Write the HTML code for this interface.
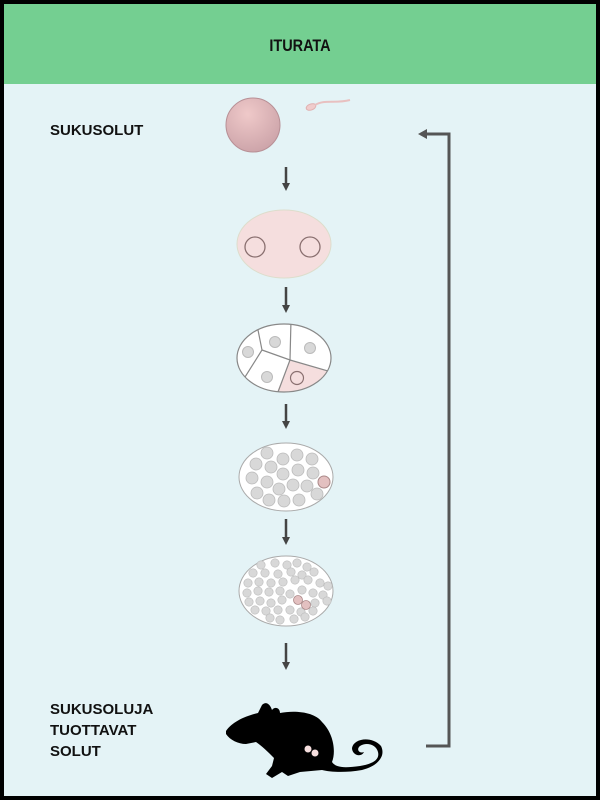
<!DOCTYPE html>
<html><head><meta charset="utf-8"><style>
html,body{margin:0;padding:0;}
body{width:600px;height:800px;overflow:hidden;font-family:"Liberation Sans",Arial,sans-serif;}
</style></head><body>
<svg width="600" height="800" viewBox="0 0 600 800" xmlns="http://www.w3.org/2000/svg">
<defs>
<radialGradient id="egg" cx="0.4" cy="0.3" r="0.8">
<stop offset="0" stop-color="#efc9c9"/><stop offset="1" stop-color="#c9a0a6"/>
</radialGradient>
<marker id="ah" markerWidth="8" markerHeight="8" refX="4" refY="4" orient="auto" markerUnits="userSpaceOnUse">
<path d="M0,0 L8,4 L0,8 z" fill="#444"/></marker>
<clipPath id="c4"><ellipse cx="284" cy="358" rx="47" ry="34"/></clipPath>
</defs>
<rect x="0" y="0" width="600" height="800" fill="#000"/>
<rect x="4" y="4" width="592" height="792" fill="#e4f3f6"/>
<rect x="4" y="4" width="592" height="80" fill="#74cf91"/>
<text x="300" y="51" text-anchor="middle" font-size="17" font-weight="bold" fill="#111" transform="translate(300 0) scale(0.85 1) translate(-300 0)">ITURATA</text>
<g font-size="15" font-weight="bold" fill="#111">
<text x="50" y="135">SUKUSOLUT</text>
<text x="50" y="714">SUKUSOLUJA</text>
<text x="50" y="735">TUOTTAVAT</text>
<text x="50" y="756">SOLUT</text>
</g>
<circle cx="253" cy="125" r="27" fill="url(#egg)" stroke="#b89096" stroke-width="1"/>
<ellipse cx="311" cy="107" rx="5" ry="3" fill="#f0cccc" stroke="#e0b0b0" transform="rotate(-20 311 107)"/>
<path d="M315,105 C325,99 335,104 350,100" stroke="#e8c0c0" stroke-width="2" fill="none"/>
<g stroke="#444" stroke-width="2.5">
<line x1="286" y1="167" x2="286" y2="187" marker-end="url(#ah)"/>
<line x1="286" y1="287" x2="286" y2="309" marker-end="url(#ah)"/>
<line x1="286" y1="404" x2="286" y2="425" marker-end="url(#ah)"/>
<line x1="286" y1="519" x2="286" y2="541" marker-end="url(#ah)"/>
<line x1="286" y1="643" x2="286" y2="666" marker-end="url(#ah)"/>
</g>
<ellipse cx="284" cy="244" rx="47" ry="34" fill="#f5dede" stroke="#ddc" stroke-width="1"/>
<circle cx="255" cy="247" r="10" fill="none" stroke="#8a7070" stroke-width="1.3"/>
<circle cx="310" cy="247" r="10" fill="none" stroke="#8a7070" stroke-width="1.3"/>
<g clip-path="url(#c4)">
<rect x="230" y="320" width="110" height="80" fill="#fff"/>
<path d="M277,392 L290,360 L335,373 L320,400 L270,400 z" fill="#f5dede"/>
<g stroke="#888" stroke-width="1.2" fill="none">
<path d="M256,320 L262,350 L240,385"/>
<path d="M262,350 L290,360 L291,320"/>
<path d="M290,360 L335,373"/>
<path d="M290,360 L275,400"/>
</g>
</g>
<ellipse cx="284" cy="358" rx="47" ry="34" fill="none" stroke="#888" stroke-width="1.2"/>
<g fill="#d8d8d8" stroke="#bbb">
<circle cx="248" cy="352" r="5.5"/><circle cx="275" cy="342" r="5.5"/><circle cx="310" cy="348" r="5.5"/><circle cx="267" cy="377" r="5.5"/>
</g>
<circle cx="297" cy="378" r="6.5" fill="none" stroke="#8a7070" stroke-width="1.2"/>
<ellipse cx="286" cy="477" rx="47" ry="34" fill="#fff" stroke="#aaa" stroke-width="1"/>
<g fill="#d8d8d8" stroke="#bbb" stroke-width="0.8">
<circle cx="267" cy="453" r="6"/><circle cx="283" cy="459" r="6"/><circle cx="297" cy="455" r="6"/><circle cx="312" cy="459" r="6"/>
<circle cx="256" cy="464" r="6"/><circle cx="271" cy="467" r="6"/><circle cx="283" cy="474" r="6"/><circle cx="298" cy="470" r="6"/><circle cx="313" cy="473" r="6"/>
<circle cx="252" cy="478" r="6"/><circle cx="267" cy="482" r="6"/><circle cx="279" cy="489" r="6"/><circle cx="293" cy="485" r="6"/><circle cx="307" cy="486" r="6"/>
<circle cx="257" cy="493" r="6"/><circle cx="269" cy="500" r="6"/><circle cx="284" cy="501" r="6"/><circle cx="299" cy="500" r="6"/><circle cx="317" cy="494" r="6"/>
</g>
<circle cx="324" cy="482" r="6" fill="#e3c0c0" stroke="#a88" stroke-width="1"/>
<ellipse cx="286" cy="591" rx="47" ry="35" fill="#fff" stroke="#aaa" stroke-width="1"/>
<g fill="#d8d8d8" stroke="#bbb" stroke-width="0.6">
<circle cx="261" cy="565" r="4.2"/><circle cx="275" cy="563" r="4.2"/><circle cx="287" cy="565" r="4.2"/><circle cx="297" cy="563" r="4.2"/><circle cx="307" cy="567" r="4.2"/>
<circle cx="253" cy="573" r="4.2"/><circle cx="265" cy="573" r="4.2"/><circle cx="278" cy="574" r="4.2"/><circle cx="291" cy="572" r="4.2"/><circle cx="302" cy="575" r="4.2"/><circle cx="314" cy="572" r="4.2"/>
<circle cx="248" cy="583" r="4.2"/><circle cx="259" cy="582" r="4.2"/><circle cx="271" cy="583" r="4.2"/><circle cx="283" cy="582" r="4.2"/><circle cx="295" cy="580" r="4.2"/><circle cx="308" cy="580" r="4.2"/><circle cx="320" cy="583" r="4.2"/><circle cx="328" cy="586" r="4.2"/>
<circle cx="247" cy="593" r="4.2"/><circle cx="258" cy="591" r="4.2"/><circle cx="269" cy="592" r="4.2"/><circle cx="280" cy="591" r="4.2"/><circle cx="290" cy="594" r="4.2"/><circle cx="302" cy="590" r="4.2"/><circle cx="313" cy="593" r="4.2"/><circle cx="323" cy="595" r="4.2"/>
<circle cx="249" cy="602" r="4.2"/><circle cx="260" cy="601" r="4.2"/><circle cx="271" cy="603" r="4.2"/><circle cx="282" cy="600" r="4.2"/><circle cx="315" cy="603" r="4.2"/><circle cx="327" cy="601" r="4.2"/>
<circle cx="255" cy="610" r="4.2"/><circle cx="266" cy="611" r="4.2"/><circle cx="278" cy="610" r="4.2"/><circle cx="290" cy="610" r="4.2"/><circle cx="301" cy="612" r="4.2"/><circle cx="313" cy="611" r="4.2"/>
<circle cx="270" cy="618" r="4.2"/><circle cx="280" cy="620" r="4.2"/><circle cx="294" cy="619" r="4.2"/><circle cx="305" cy="617" r="4.2"/>
</g>
<circle cx="298" cy="600" r="4.5" fill="#e3c0c0" stroke="#a88" stroke-width="0.8"/>
<circle cx="306" cy="605" r="4.5" fill="#e3c0c0" stroke="#a88" stroke-width="0.8"/>
<g fill="#000">
<path d="M226,731 C232,722 245,716 258,713 L262,705 C266,701 270,704 272,710 C275,706 280,708 280,713 C295,710 315,712 322,722 C334,734 336,752 332,762 C336,768 345,768 360,766 C372,764 380,760 378,752 C376,744 366,742 360,746 C356,749 359,754 364,752 C361,758 352,755 352,748 C354,738 372,736 381,746 C386,756 378,766 362,770 C345,773 330,772 322,770 L300,772 L288,776 L282,772 L272,778 L266,774 L272,766 L274,758 C268,752 262,746 256,742 L246,744 C238,744 230,740 226,734 Z"/>
</g>
<circle cx="308" cy="749" r="3.5" fill="#f5dede"/>
<circle cx="315" cy="753" r="3.5" fill="#f5dede"/>
<g stroke="#555" stroke-width="3" fill="none">
<polyline points="426,746 449,746 449,134 425,134"/>
</g>
<path d="M418,134 L427,129 L427,139 z" fill="#555"/>
</svg>
</body></html>
